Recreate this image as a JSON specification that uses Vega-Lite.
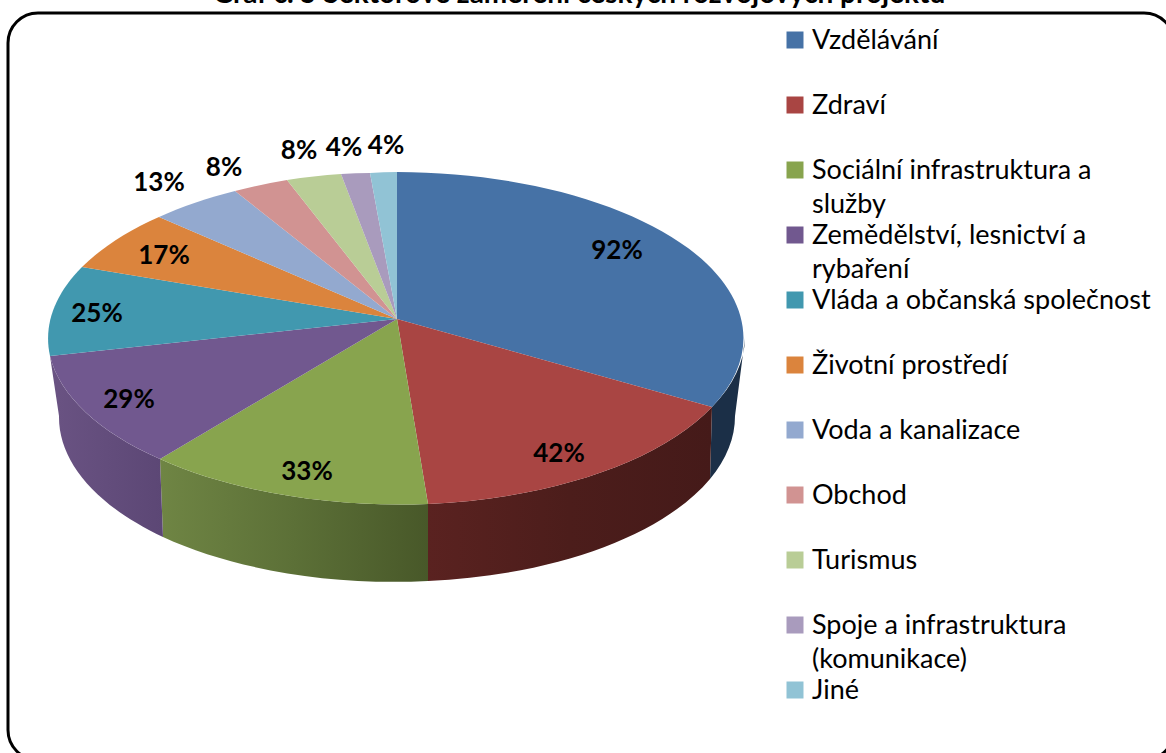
{"$schema":"https://vega.github.io/schema/vega-lite/v6.json","width":1166,"height":753,"padding":0,"autosize":{"type":"none"},"background":"white",
"title":{"text":"Graf č. 5 Sektorové zaměření českých rozvojových projektů","font":"Lato","fontSize":28,"fontWeight":"bold","color":"black","anchor":"middle","baseline":"alphabetic","offset":-31,"dx":-4},
"config":{"view":{"stroke":null},"axis":{"disable":true}},
"data":{"values":[
{"sektor":"Vzdělávání","popis":"Vzdělávání","podil":0.92},
{"sektor":"Zdraví","popis":"Zdraví","podil":0.42},
{"sektor":"Sociální infrastruktura a služby","popis":"Sociální infrastruktura a\nslužby","podil":0.33},
{"sektor":"Zemědělství, lesnictví a rybaření","popis":"Zemědělství, lesnictví a\nrybaření","podil":0.29},
{"sektor":"Vláda a občanská společnost","popis":"Vláda a občanská společnost","podil":0.25},
{"sektor":"Životní prostředí","popis":"Životní prostředí","podil":0.17},
{"sektor":"Voda a kanalizace","popis":"Voda a kanalizace","podil":0.13},
{"sektor":"Obchod","popis":"Obchod","podil":0.08},
{"sektor":"Turismus","popis":"Turismus","podil":0.08},
{"sektor":"Spoje a infrastruktura (komunikace)","popis":"Spoje a infrastruktura\n(komunikace)","podil":0.04},
{"sektor":"Jiné","popis":"Jiné","podil":0.04}
]},
"layer":[
{"data":{"values":[{"ramec":1}]},"mark":{"type":"rect","fill":"transparent","stroke":"black","strokeWidth":3,"cornerRadius":30},
"encoding":{"x":{"datum":8,"type":"quantitative","scale":{"domain":[0,1166],"range":[0,1166]}},"x2":{"datum":1174},"y":{"datum":13,"type":"quantitative","scale":{"domain":[0,753],"range":[0,753]}},"y2":{"datum":760}}},
{"transform":[{"filter":"datum.sektor==='Vzdělávání'"}],"mark":{"type":"point","filled":true,"opacity":1,"size":4,"shape":"M348 19L338 97A338 166 0 0 1 313 160L315 88A348 166 0 0 0 348 19Z","fill":"#1B2F47"},
"encoding":{"x":{"datum":397,"type":"quantitative","scale":{"domain":[0,1166],"range":[0,1166]}},"y":{"datum":319,"type":"quantitative","scale":{"domain":[0,753],"range":[0,753]}}}},
{"transform":[{"filter":"datum.sektor==='Zdraví'"}],"mark":{"type":"point","filled":true,"opacity":1,"size":4,"shape":"M315 88L313 160A338 166 0 0 1 31 262L31 185A348 166 0 0 0 315 88Z","fill":{"gradient":"linear","x1":0,"x2":1,"y1":0,"y2":0,"stops":[{"offset":0,"color":"#5A2220"},{"offset":0.5,"color":"#4C1D1B"},{"offset":1,"color":"#451A19"}]}},
"encoding":{"x":{"datum":397,"type":"quantitative","scale":{"domain":[0,1166],"range":[0,1166]}},"y":{"datum":319,"type":"quantitative","scale":{"domain":[0,753],"range":[0,753]}}}},
{"transform":[{"filter":"datum.sektor==='Sociální infrastruktura a služby'"}],"mark":{"type":"point","filled":true,"opacity":1,"size":4,"shape":"M31 185L31 262A338 166 0 0 1 -234 218L-237 140A348 166 0 0 0 31 185Z","fill":{"gradient":"linear","x1":0,"x2":1,"y1":0,"y2":0,"stops":[{"offset":0,"color":"#6F8544"},{"offset":0.5,"color":"#5C7037"},{"offset":1,"color":"#485829"}]}},
"encoding":{"x":{"datum":397,"type":"quantitative","scale":{"domain":[0,1166],"range":[0,1166]}},"y":{"datum":319,"type":"quantitative","scale":{"domain":[0,753],"range":[0,753]}}}},
{"transform":[{"filter":"datum.sektor==='Zemědělství, lesnictví a rybaření'"}],"mark":{"type":"point","filled":true,"opacity":1,"size":4,"shape":"M-237 140L-234 218A338 166 0 0 1 -338 97L-347 37A348 166 0 0 0 -237 140Z","fill":{"gradient":"linear","x1":0,"x2":1,"y1":0,"y2":0,"stops":[{"offset":0,"color":"#6A5383"},{"offset":1,"color":"#5C4775"}]}},
"encoding":{"x":{"datum":397,"type":"quantitative","scale":{"domain":[0,1166],"range":[0,1166]}},"y":{"datum":319,"type":"quantitative","scale":{"domain":[0,753],"range":[0,753]}}}},
{"mark":{"type":"point","filled":true,"opacity":1,"size":4},
"encoding":{"x":{"datum":397,"type":"quantitative","scale":{"domain":[0,1166],"range":[0,1166]}},"y":{"datum":319,"type":"quantitative","scale":{"domain":[0,753],"range":[0,753]}},
"color":{"field":"sektor","type":"nominal","legend":null,"scale":{"domain":["Vzdělávání","Zdraví","Sociální infrastruktura a služby","Zemědělství, lesnictví a rybaření","Vláda a občanská společnost","Životní prostředí","Voda a kanalizace","Obchod","Turismus","Spoje a infrastruktura (komunikace)","Jiné"],"range":["#4672A6","#A94543","#88A44E","#71588F","#4198AF","#DB843D","#93A9CF","#D19392","#B9CD96","#A99BBD","#91C3D5"]}},
"shape":{"field":"sektor","type":"nominal","legend":null,"scale":{"domain":["Vzdělávání","Zdraví","Sociální infrastruktura a služby","Zemědělství, lesnictví a rybaření","Vláda a občanská společnost","Životní prostředí","Voda a kanalizace","Obchod","Turismus","Spoje a infrastruktura (komunikace)","Jiné"],"range":[
"M0 0L0 -147A348 166 0 0 1 315 88Z",
"M0 0L315 88A348 166 0 0 1 31 185Z",
"M0 0L31 185A348 166 0 0 1 -237 140Z",
"M0 0L-237 140A348 166 0 0 1 -347 37Z",
"M0 0L-347 37A348 166 0 0 1 -315 -52Z",
"M0 0L-315 -52A348 166 0 0 1 -238 -102Z",
"M0 0L-238 -102A348 166 0 0 1 -162 -128Z",
"M0 0L-162 -128A348 166 0 0 1 -110 -139Z",
"M0 0L-110 -139A348 166 0 0 1 -56 -145Z",
"M0 0L-56 -145A348 166 0 0 1 -27 -146Z",
"M0 0L-27 -146A348 166 0 0 1 0 -147Z"]}}}},
{"mark":{"type":"point","shape":"square","filled":true,"opacity":1,"size":289},
"encoding":{"x":{"datum":795,"type":"quantitative","scale":{"domain":[0,1166],"range":[0,1166]}},"y":{"field":"sektor","type":"nominal","sort":null,"scale":{"type":"point","padding":0,"range":[40,690]}},
"color":{"field":"sektor","type":"nominal","legend":null}}},
{"mark":{"type":"text","font":"Lato","fontSize":27,"align":"left","baseline":"alphabetic","dy":9,"lineBreak":"\n","lineHeight":34,"color":"black"},
"encoding":{"x":{"datum":812,"type":"quantitative","scale":{"domain":[0,1166],"range":[0,1166]}},"y":{"field":"sektor","type":"nominal","sort":null,"scale":{"type":"point","padding":0,"range":[40,690]}},"text":{"field":"popis"}}},
{"transform":[{"filter":"datum.sektor==='Vzdělávání'"}],"mark":{"type":"text","font":"Lato","fontSize":26,"fontWeight":"bold","color":"black","dy":1},"encoding":{"x":{"datum":617,"type":"quantitative","scale":{"domain":[0,1166],"range":[0,1166]}},"y":{"datum":250,"type":"quantitative","scale":{"domain":[0,753],"range":[0,753]}},"text":{"field":"podil","type":"quantitative","format":".0%"}}},
{"transform":[{"filter":"datum.sektor==='Zdraví'"}],"mark":{"type":"text","font":"Lato","fontSize":26,"fontWeight":"bold","color":"black","dy":1},"encoding":{"x":{"datum":559,"type":"quantitative","scale":{"domain":[0,1166],"range":[0,1166]}},"y":{"datum":453,"type":"quantitative","scale":{"domain":[0,753],"range":[0,753]}},"text":{"field":"podil","type":"quantitative","format":".0%"}}},
{"transform":[{"filter":"datum.sektor==='Sociální infrastruktura a služby'"}],"mark":{"type":"text","font":"Lato","fontSize":26,"fontWeight":"bold","color":"black","dy":1},"encoding":{"x":{"datum":307,"type":"quantitative","scale":{"domain":[0,1166],"range":[0,1166]}},"y":{"datum":471,"type":"quantitative","scale":{"domain":[0,753],"range":[0,753]}},"text":{"field":"podil","type":"quantitative","format":".0%"}}},
{"transform":[{"filter":"datum.sektor==='Zemědělství, lesnictví a rybaření'"}],"mark":{"type":"text","font":"Lato","fontSize":26,"fontWeight":"bold","color":"black","dy":1},"encoding":{"x":{"datum":129,"type":"quantitative","scale":{"domain":[0,1166],"range":[0,1166]}},"y":{"datum":399,"type":"quantitative","scale":{"domain":[0,753],"range":[0,753]}},"text":{"field":"podil","type":"quantitative","format":".0%"}}},
{"transform":[{"filter":"datum.sektor==='Vláda a občanská společnost'"}],"mark":{"type":"text","font":"Lato","fontSize":26,"fontWeight":"bold","color":"black","dy":1},"encoding":{"x":{"datum":97,"type":"quantitative","scale":{"domain":[0,1166],"range":[0,1166]}},"y":{"datum":313,"type":"quantitative","scale":{"domain":[0,753],"range":[0,753]}},"text":{"field":"podil","type":"quantitative","format":".0%"}}},
{"transform":[{"filter":"datum.sektor==='Životní prostředí'"}],"mark":{"type":"text","font":"Lato","fontSize":26,"fontWeight":"bold","color":"black","dy":1},"encoding":{"x":{"datum":164,"type":"quantitative","scale":{"domain":[0,1166],"range":[0,1166]}},"y":{"datum":255,"type":"quantitative","scale":{"domain":[0,753],"range":[0,753]}},"text":{"field":"podil","type":"quantitative","format":".0%"}}},
{"transform":[{"filter":"datum.sektor==='Voda a kanalizace'"}],"mark":{"type":"text","font":"Lato","fontSize":26,"fontWeight":"bold","color":"black","dy":1},"encoding":{"x":{"datum":159,"type":"quantitative","scale":{"domain":[0,1166],"range":[0,1166]}},"y":{"datum":182,"type":"quantitative","scale":{"domain":[0,753],"range":[0,753]}},"text":{"field":"podil","type":"quantitative","format":".0%"}}},
{"transform":[{"filter":"datum.sektor==='Obchod'"}],"mark":{"type":"text","font":"Lato","fontSize":26,"fontWeight":"bold","color":"black","dy":1},"encoding":{"x":{"datum":224,"type":"quantitative","scale":{"domain":[0,1166],"range":[0,1166]}},"y":{"datum":167,"type":"quantitative","scale":{"domain":[0,753],"range":[0,753]}},"text":{"field":"podil","type":"quantitative","format":".0%"}}},
{"transform":[{"filter":"datum.sektor==='Turismus'"}],"mark":{"type":"text","font":"Lato","fontSize":26,"fontWeight":"bold","color":"black","dy":1},"encoding":{"x":{"datum":299,"type":"quantitative","scale":{"domain":[0,1166],"range":[0,1166]}},"y":{"datum":150,"type":"quantitative","scale":{"domain":[0,753],"range":[0,753]}},"text":{"field":"podil","type":"quantitative","format":".0%"}}},
{"transform":[{"filter":"datum.sektor==='Spoje a infrastruktura (komunikace)'"}],"mark":{"type":"text","font":"Lato","fontSize":26,"fontWeight":"bold","color":"black","dy":1},"encoding":{"x":{"datum":344,"type":"quantitative","scale":{"domain":[0,1166],"range":[0,1166]}},"y":{"datum":147,"type":"quantitative","scale":{"domain":[0,753],"range":[0,753]}},"text":{"field":"podil","type":"quantitative","format":".0%"}}},
{"transform":[{"filter":"datum.sektor==='Jiné'"}],"mark":{"type":"text","font":"Lato","fontSize":26,"fontWeight":"bold","color":"black","dy":1},"encoding":{"x":{"datum":386,"type":"quantitative","scale":{"domain":[0,1166],"range":[0,1166]}},"y":{"datum":145,"type":"quantitative","scale":{"domain":[0,753],"range":[0,753]}},"text":{"field":"podil","type":"quantitative","format":".0%"}}}
],
"resolve":{"scale":{"y":"independent"}}}
